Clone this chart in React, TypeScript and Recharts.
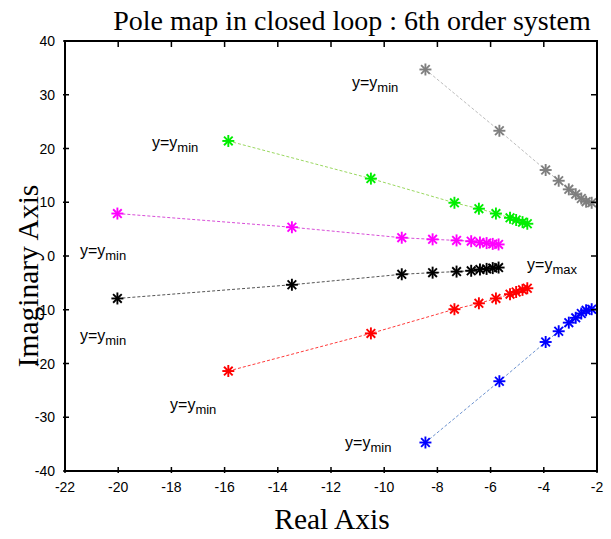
import React from 'react';
import { ScatterChart, Scatter, XAxis, YAxis, ReferenceDot } from 'recharts';

// pole trajectories (real / imaginary parts), y going from ymin to ymax
const grayRe = [-8.45, -5.67, -3.93, -3.44, -3.06, -2.8, -2.59, -2.41, -2.2];
const grayIm = [34.7, 23.3, 16.0, 14.0, 12.4, 11.5, 10.7, 10.1, 9.9];
const blueRe = [-8.45, -5.67, -3.93, -3.44, -3.06, -2.8, -2.59, -2.41, -2.2];
const blueIm = [-34.7, -23.3, -16.0, -14.0, -12.4, -11.5, -10.7, -10.1, -9.9];
const greenRe = [-15.86, -10.5, -7.36, -6.44, -5.8, -5.27, -5.04, -4.8, -4.62];
const greenIm = [21.4, 14.4, 9.9, 8.8, 7.9, 7.1, 6.7, 6.3, 6.0];
const redRe = [-15.86, -10.5, -7.36, -6.44, -5.8, -5.27, -5.04, -4.8, -4.62];
const redIm = [-21.4, -14.4, -9.9, -8.8, -7.9, -7.1, -6.7, -6.3, -6.0];
const magentaRe = [-20.03, -13.47, -9.34, -8.18, -7.28, -6.73, -6.4, -6.15, -5.92, -5.7];
const magentaIm = [7.9, 5.35, 3.4, 3.1, 2.9, 2.75, 2.5, 2.4, 2.25, 2.15];
const blackRe = [-20.03, -13.47, -9.34, -8.18, -7.28, -6.73, -6.4, -6.15, -5.92, -5.7];
const blackIm = [-7.9, -5.35, -3.4, -3.1, -2.9, -2.75, -2.5, -2.4, -2.25, -2.15];

const xTicks = [-22, -20, -18, -16, -14, -12, -10, -8, -6, -4, -2];
const yTicks = [-40, -30, -20, -10, 0, 10, 20, 30, 40];
const xDomain = [-22, -2];
const yDomain = [-40, 40];

// annotation anchors (data coords) and subscript
const labels = [
  { x: -11.21, y: 31.3, sub: 'min' },
  { x: -18.73, y: 20.1, sub: 'min' },
  { x: -21.44, y: 0, sub: 'min' },
  { x: -21.44, y: -15.8, sub: 'min' },
  { x: -18.05, y: -28.65, sub: 'min' },
  { x: -11.47, y: -35.7, sub: 'min' },
  { x: -4.63, y: -2.6, sub: 'max' },
];

const zip = (re: number[], im: number[]) => re.map((r, i) => ({ re: r, im: im[i] }));

const series = [
  { name: 'gray', data: zip(grayRe, grayIm), mark: '#7f7f7f', line: '#bdbdbd' },
  { name: 'green', data: zip(greenRe, greenIm), mark: '#00ee00', line: '#9ad860' },
  { name: 'magenta', data: zip(magentaRe, magentaIm), mark: '#ff00ff', line: '#d84ed8' },
  { name: 'black', data: zip(blackRe, blackIm), mark: '#000000', line: '#555555' },
  { name: 'red', data: zip(redRe, redIm), mark: '#ff0000', line: '#ff3b3b' },
  { name: 'blue', data: zip(blueRe, blueIm), mark: '#0000ff', line: '#6c92cf' },
];

const W = 611;
const H = 539;
const M = { top: 41, right: 14, left: 0, bottom: 0 };
const Y_AXIS_W = 65;
const X_AXIS_H = 68;

const TICK_FONT = '"Liberation Sans", Arial, sans-serif';
const SERIF = '"Liberation Serif", "Times New Roman", serif';

const Star = (props: any) => {
  const { cx, cy, fill } = props;
  if (cx == null || cy == null) return null;
  const r = 6;
  const d = r * 0.72;
  return (
    <g stroke={fill} strokeWidth={1.9}>
      <line x1={cx - r} y1={cy} x2={cx + r} y2={cy} />
      <line x1={cx} y1={cy - r} x2={cx} y2={cy + r} />
      <line x1={cx - d} y1={cy - d} x2={cx + d} y2={cy + d} />
      <line x1={cx - d} y1={cy + d} x2={cx + d} y2={cy - d} />
    </g>
  );
};

// axis ticks: label outside, inward tick mark on both this side and the opposite side
const BottomTick = (props: any) => {
  const { x, y, payload } = props;
  const top = M.top;
  return (
    <g>
      <path d={`M${x},${y}V${y - 6}M${x},${top}V${top + 6}`} stroke="#000" strokeWidth={1.5} fill="none" />
      <text x={x} y={y + 19} textAnchor="middle" fontFamily={TICK_FONT} fontSize={14} fill="#000">
        {payload.value}
      </text>
    </g>
  );
};

const LeftTick = (props: any) => {
  const { x, y, payload } = props;
  const right = W - M.right;
  return (
    <g>
      <path d={`M${x},${y}H${x + 6}M${right},${y}H${right - 6}`} stroke="#000" strokeWidth={1.5} fill="none" />
      <text x={x - 8} y={y + 5} textAnchor="end" fontFamily={TICK_FONT} fontSize={14} fill="#000">
        {payload.value}
      </text>
    </g>
  );
};

const makeLabel = (sub: string) => (props: any) => {
  const { cx, cy } = props;
  return (
    <text x={cx} y={cy} fontFamily={TICK_FONT} fontSize={16} fill="#000">
      y=y
      <tspan fontSize={13} dy={4}>{sub}</tspan>
    </text>
  );
};

// full box around the plot, drawn from the axis line's own geometry
const BoxLine = (props: any) => {
  const { x, y, height } = props;
  const x0 = Y_AXIS_W + M.left;
  const x1 = W - M.right;
  const y0 = M.top;
  const y1 = H - M.bottom - X_AXIS_H;
  return (
    <path
      d={`M${x0},${y0}H${x1}V${y1}H${x0}Z`}
      stroke="#000"
      strokeWidth={2}
      fill="none"
      data-x={x}
      data-y={y}
      data-h={height}
    />
  );
};

export default function App() {
  return (
    <div style={{ position: 'absolute', left: 0, top: 0, width: W, height: H, background: '#fff' }}>
      <ScatterChart width={W} height={H} margin={M} style={{ overflow: 'visible' }}>
        <XAxis
          dataKey="re"
          type="number"
          domain={xDomain}
          ticks={xTicks}
          height={X_AXIS_H}
          tickSize={0}
          tickLine={false}
          tick={<BottomTick />}
          axisLine={{ stroke: '#000', strokeWidth: 2 }}
          allowDataOverflow
          interval={0}
        />
        <YAxis
          dataKey="im"
          type="number"
          domain={yDomain}
          ticks={yTicks}
          width={Y_AXIS_W}
          tickSize={0}
          tickLine={false}
          tick={<LeftTick />}
          axisLine={{ stroke: '#000', strokeWidth: 2 }}
          allowDataOverflow
          interval={0}
        />
        {series.map((s) => (
          <Scatter
            key={s.name}
            name={s.name}
            data={s.data}
            fill={s.mark}
            line={{ stroke: s.line, strokeWidth: 1, strokeDasharray: '3 2' }}
            lineType="joint"
            shape={<Star />}
            isAnimationActive={false}
          />
        ))}
        {labels.map((l, i) => (
          <ReferenceDot key={i} x={l.x} y={l.y} r={0} ifOverflow="visible" shape={makeLabel(l.sub)} />
        ))}
      </ScatterChart>
      <svg width={W} height={H} style={{ position: 'absolute', left: 0, top: 0, pointerEvents: 'none' }}>
        <BoxLine />
        <text x={352} y={30} textAnchor="middle" fontFamily={SERIF} fontSize={28} fill="#000">
          Pole map in closed loop : 6th order system
        </text>
        <text x={332} y={529} textAnchor="middle" fontFamily={SERIF} fontSize={29.5} fill="#000">
          Real Axis
        </text>
        <text
          x={0}
          y={0}
          transform="translate(38,276) rotate(-90)"
          textAnchor="middle"
          fontFamily={SERIF}
          fontSize={29.5}
          fill="#000"
        >
          Imaginary Axis
        </text>
      </svg>
    </div>
  );
}
